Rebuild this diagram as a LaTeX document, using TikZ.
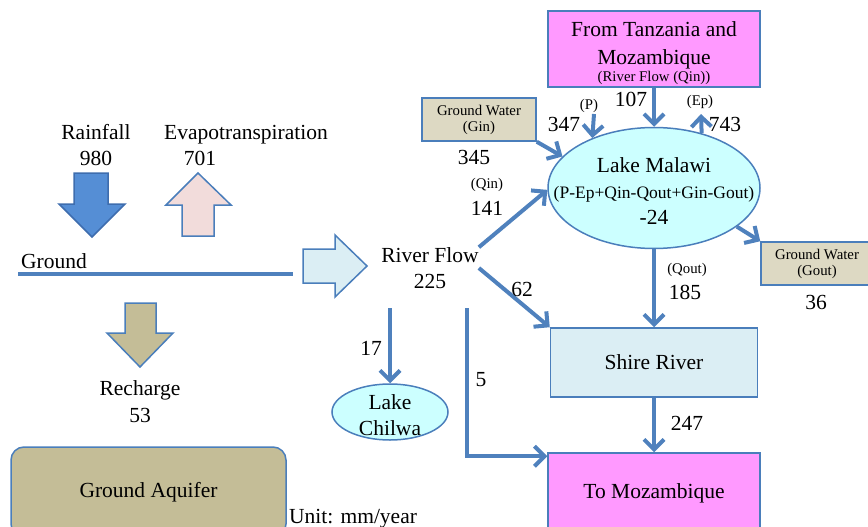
\documentclass[tikz,border=0pt]{standalone}
\usepackage{fontspec}
\setmainfont{Liberation Serif}
\usetikzlibrary{arrows.meta,shapes.geometric}

\definecolor{flowblue}{HTML}{4F81BD}
\definecolor{edgeblue}{HTML}{4A7EBB}
\definecolor{rainblue}{HTML}{558ED5}
\definecolor{rainedge}{HTML}{3E6DAE}
\definecolor{countrypink}{HTML}{FF99FF}
\definecolor{gwtan}{HTML}{DDD9C3}
\definecolor{aquifertan}{HTML}{C4BD97}
\definecolor{lakecyan}{HTML}{CCFFFF}
\definecolor{riverpale}{HTML}{DBEEF4}
\definecolor{evappink}{HTML}{F2DCDB}

\tikzset{
  big/.style={font=\fontsize{21.5}{26}\selectfont},
  mid/.style={font=\fontsize{17.5}{21}\selectfont},
  small/.style={font=\fontsize{14.8}{16}\selectfont},
  lbl/.style={inner sep=0pt, align=center},
  boxed/.style={draw=edgeblue, line width=1.5pt, inner sep=0pt, align=center},
  flow/.style={draw=flowblue, line width=4pt,
               -{Straight Barb[length=10pt,width=20pt]}},
  blockarrow/.style={draw=edgeblue, line width=1.5pt, line join=miter},
}

\begin{document}
\begin{tikzpicture}[x=1pt,y=-1pt]
\useasboundingbox (0,0) rectangle (868,527);

% ---------- left part: land water balance ----------
\node[lbl,big] (rain) at (96,145) {Rainfall\\980};
\node[lbl,big] (evapname) at (246,134.5) {Evapotranspiration};
\node[lbl,big] (evapval) at (200,158) {701};

% rainfall (down) and evapotranspiration (up) block arrows
\filldraw[blockarrow, fill=rainblue, draw=rainedge]
  (74,173) -- (108,173) -- (108,204) -- (125,204) -- (92,237)
  -- (59,204) -- (74,204) -- cycle;
\filldraw[blockarrow, fill=evappink]
  (198,173) -- (231,205) -- (214,205) -- (214,236) -- (182,236)
  -- (182,205) -- (166,205) -- cycle;

% ground surface
\node[lbl,big,anchor=west] (ground) at (21,261) {Ground};
\draw[draw=flowblue, line width=4.5pt] (18,274) -- (293,274);

% runoff block arrow towards the river
\filldraw[blockarrow, fill=riverpale]
  (303,249) -- (335,249) -- (335,235) -- (367,266) -- (335,297)
  -- (335,283) -- (303,283) -- cycle;

% recharge
\filldraw[blockarrow, fill=aquifertan]
  (125,303) -- (156,303) -- (156,333) -- (173,333) -- (140,367)
  -- (107,333) -- (125,333) -- cycle;
\node[lbl,big,font=\fontsize{21.5}{27}\selectfont] (recharge) at (140,401.6) {Recharge\\53};

\node[boxed, big, fill=aquifertan, rounded corners=13pt,
      minimum width=275pt, minimum height=90pt] (aquifer) at (148.5,492) {Ground Aquifer};

\node[lbl,big,anchor=base west] (unit) at (289,523) {Unit: mm/year};

% ---------- right part: lake and river system ----------
\node[boxed, big, fill=countrypink, minimum width=212pt, minimum height=76pt,
      font=\fontsize{21.5}{28}\selectfont] (src) at (654,49)
  {\rule{0pt}{23.5pt}From Tanzania and\\Mozambique\\[-10.5pt]
   {\fontsize{14.8}{16}\selectfont (River Flow (Qin))}};

\node[boxed, fill=gwtan, small, minimum width=114pt, minimum height=43pt] (gin)
  at (479,119.5) {Ground Water\\(Gin)};

\node[boxed, ellipse, fill=lakecyan, big, inner xsep=-30pt, inner ysep=0pt,
      minimum width=212pt, minimum height=121pt] (malawi) at (654,188)
  {\rule{0pt}{21.5pt}Lake Malawi\\
   {\fontsize{17.5}{26}\selectfont (P-Ep+Qin-Qout+Gin-Gout)}\\
   -24};

\node[boxed, fill=gwtan, small, minimum width=112pt, minimum height=43pt] (gout)
  at (817,263.5) {Ground Water\\(Gout)};

\node[boxed, fill=riverpale, big, minimum width=207pt, minimum height=69pt] (shire)
  at (654,362.5) {Shire River};

\node[boxed, fill=countrypink, big, minimum width=212pt, minimum height=80pt] (moz)
  at (654,493) {To Mozambique};

\node[lbl,big] (rf) at (430,268) {River Flow\\225};

\node[boxed, ellipse, fill=lakecyan, big, inner xsep=0pt, inner ysep=-4pt,
      minimum width=116pt, minimum height=56pt] (chilwa) at (390,412)
  {\rule{0pt}{21pt}Lake\\Chilwa};

% free ends of the short arrows
\coordinate (pTop) at (594,114);
\coordinate (epTop) at (701,114);
\coordinate (chTop) at (390,308);
\coordinate (fTop) at (467,308);

% flows
\draw[flow] (src) -- (malawi);
\draw[flow] (pTop) -- (malawi.141);
\draw[flow] (malawi.49) -- (epTop);
\draw[flow] (gin.south east) -- (malawi.161);
\draw[flow] (rf.north east) -- (malawi.181);
\draw[flow] (malawi.-25) -- (gout.north west);
\draw[flow] (malawi) -- (shire);
\draw[flow] (shire) -- (moz);
\draw[flow] (rf.east) -- (shire.north west);
\draw[flow] (chTop) -- (chilwa);
\draw[flow] (fTop) |- ([yshift=-4pt]moz.north west);

% flow values
\node[lbl,small] (plbl) at (589,106) {(P)};
\node[lbl,big] (pval) at (564,124) {347};
\node[lbl,big] (qinsrc) at (631,99) {107};
\node[lbl,small] (eplbl) at (700,102) {(Ep)};
\node[lbl,big] (epval) at (725,124) {743};
\node[lbl,big] (ginval) at (474,157) {345};
\node[lbl,small] (qinlbl) at (487,185) {(Qin)};
\node[lbl,big] (qinval) at (487,208) {141};
\node[lbl,big] (shireval) at (522,289) {62};
\node[lbl,big] (chilwaval) at (371,348) {17};
\node[lbl,big] (directval) at (481,380) {5};
\node[lbl,small] (qoutlbl) at (687,270) {(Qout)};
\node[lbl,big] (qoutval) at (685,292) {185};
\node[lbl,big] (outval) at (687,423) {247};
\node[lbl,big] (goutval) at (816,302) {36};

\end{tikzpicture}
\end{document}
